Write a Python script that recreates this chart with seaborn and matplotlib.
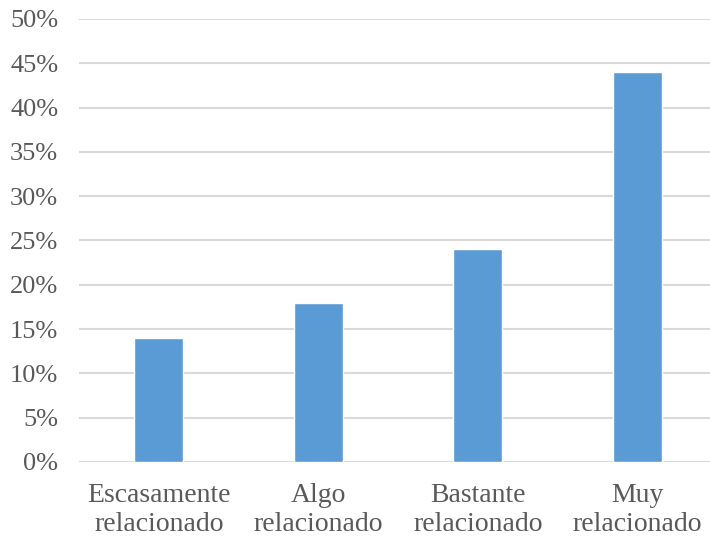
import matplotlib
matplotlib.use("Agg")
import matplotlib.pyplot as plt
from matplotlib.ticker import PercentFormatter, MultipleLocator
import seaborn as sns
import pandas as pd

categories = ["Escasamente\nrelacionado", "Algo\nrelacionado", "Bastante\nrelacionado", "Muy\nrelacionado"]
values = [14, 18, 24, 44]

sns.set_style("white")
plt.rcParams["font.family"] = ["Liberation Serif", "DejaVu Serif"]

df = pd.DataFrame({"categoria": categories, "porcentaje": values})

fig = plt.figure(figsize=(7.1, 5.38), dpi=100)
ax = fig.add_axes([0.1113, 0.1413, 0.8887, 0.8234])

sns.barplot(data=df, x="categoria", y="porcentaje", color="#5B9BD5",
            saturation=1, width=0.31, ax=ax, zorder=3)

ax.set_ylim(0, 50)
ax.set_xlim(-0.5, 3.456)
ax.yaxis.set_major_locator(MultipleLocator(5))
ax.yaxis.set_major_formatter(PercentFormatter(decimals=0))
ax.grid(axis="y", color="#D9D9D9", linewidth=1.5, zorder=0)
ax.set_axisbelow(True)
for s in ax.spines.values():
    s.set_visible(False)
ax.set_xlabel("")
ax.set_ylabel("")
ax.tick_params(axis="both", length=0, labelcolor="#595959")
ax.tick_params(axis="y", pad=15, labelsize=19)
ax.tick_params(axis="x", pad=15, labelsize=20)
for lbl in ax.get_xticklabels():
    lbl.set_linespacing(1.2)

fig.savefig("out.png", dpi=100)
